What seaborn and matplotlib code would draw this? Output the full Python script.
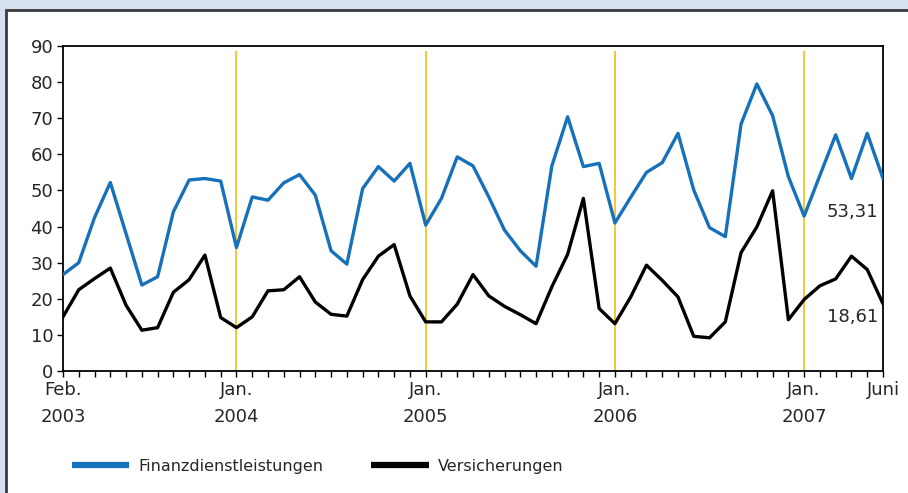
import numpy as np
import pandas as pd
import seaborn as sns
import matplotlib.pyplot as plt
from matplotlib.patches import Rectangle
from matplotlib.ticker import MultipleLocator, FixedLocator

# monthly values, Feb 2003 .. Juni 2007
finanz = [26.7, 30.0, 42.5, 52.2, 38.0, 23.8, 26.1, 44.1, 52.9, 53.3, 52.6, 34.2,
          48.2, 47.3, 52.1, 54.4, 48.7, 33.3, 29.6, 50.5, 56.6, 52.6, 57.5, 40.4,
          47.8, 59.3, 56.8, 48.2, 39.0, 33.3, 29.0, 56.8, 70.4, 56.6, 57.5, 41.0,
          48.1, 55.0, 57.7, 65.8, 50.1, 39.7, 37.2, 68.4, 79.5, 70.7, 53.8, 42.9,
          54.2, 65.4, 53.3, 65.8, 53.31]
versich = [15.0, 22.5, 25.6, 28.5, 18.2, 11.3, 12.0, 21.8, 25.3, 32.1, 14.8, 12.0,
           15.0, 22.2, 22.5, 26.1, 19.1, 15.7, 15.2, 25.3, 31.8, 35.0, 20.8, 13.6,
           13.6, 18.5, 26.7, 20.8, 17.9, 15.6, 13.1, 23.3, 32.3, 47.8, 17.3, 13.1,
           20.5, 29.3, 25.1, 20.5, 9.6, 9.2, 13.6, 32.8, 39.9, 49.9, 14.2, 19.8,
           23.6, 25.5, 31.8, 28.1, 18.61]
tick_pos = [0, 11, 23, 35, 47, 52]
tick_labels = ["Feb.\n2003", "Jan.\n2004", "Jan.\n2005", "Jan.\n2006", "Jan.\n2007", "Juni\n "]
jan_pos = [11, 23, 35, 47]
series_names = ["Finanzdienstleistungen", "Versicherungen"]

months = np.arange(len(finanz))
df = pd.DataFrame({
    "month": np.concatenate([months, months]),
    "value": finanz + versich,
    "series": [series_names[0]] * len(finanz) + [series_names[1]] * len(versich),
})

sns.set_style("white")
plt.rcParams["font.family"] = ["DejaVu Sans"]

fig = plt.figure(figsize=(9.08, 4.93), dpi=100, facecolor="#D6E0F1")
fig.patches.append(Rectangle((6 / 908, -0.05), 1.1, 1 - 10 / 493 + 0.05,
                             transform=fig.transFigure, facecolor="white",
                             edgecolor="#3c3c3c", linewidth=2, zorder=-10))
ax = fig.add_axes([63 / 908, 1 - 371 / 493, 820 / 908, 325 / 493], zorder=5)
ax.set_facecolor("white")

ax.vlines(jan_pos, 0, 88.6, color="#F2B600", linewidth=1.1, zorder=1)
sns.lineplot(data=df, x="month", y="value", hue="series",
             palette=["#1771BA", "black"], linewidth=2.4, ax=ax, zorder=3)

ax.set_xlim(0, 52)
ax.set_ylim(0, 90)
ax.yaxis.set_major_locator(MultipleLocator(10))
ax.xaxis.set_major_locator(FixedLocator(tick_pos))
ax.xaxis.set_minor_locator(MultipleLocator(1))
ax.set_xticklabels(tick_labels, linespacing=1.65)
ax.tick_params(axis="both", which="both", direction="out", length=4, width=1,
               color="black", labelsize=13, pad=3)
ax.tick_params(axis="x", which="both", bottom=True)
ax.tick_params(axis="y", left=True)
ax.set_xlabel("")
ax.set_ylabel("")
for s in ax.spines.values():
    s.set_color("black")
    s.set_linewidth(1.3)

ax.text(51.7, finanz[-1] - 9.3, "53,31", ha="right", va="center", fontsize=13)
ax.text(51.7, versich[-1] - 3.6, "18,61", ha="right", va="center", fontsize=13)

handles, labels = ax.get_legend_handles_labels()
for h in handles:
    h.set_linewidth(4.5)
    h.set_solid_capstyle("butt")
ax.legend(handles, labels, loc="center left", bbox_to_anchor=(64 / 908, 1 - 466 / 493),
          bbox_transform=fig.transFigure, ncol=2, frameon=False, fontsize=11.5,
          handlelength=3.6, handletextpad=0.55, columnspacing=3.0, borderpad=0)

fig.savefig("out.png", dpi=100, facecolor=fig.get_facecolor())
